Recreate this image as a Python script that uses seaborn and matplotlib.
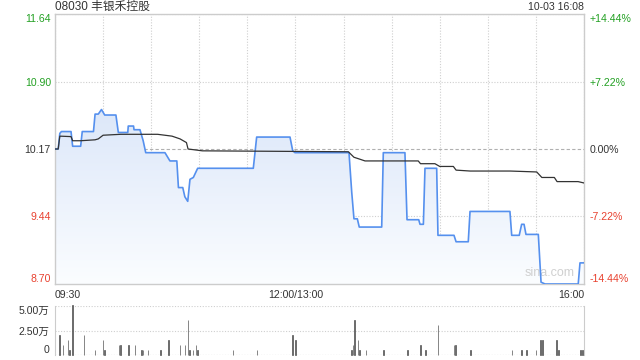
import numpy as np
import matplotlib
matplotlib.use("Agg")
import matplotlib.pyplot as plt
from matplotlib.colors import LinearSegmentedColormap
import seaborn as sns

# ---------------- data ----------------
title = "08030 丰银禾控股"
stamp = "10-03 16:08"
prev_close = 10.17

price_minutes = [0, 2, 3, 4, 10, 11, 16, 17, 24, 25, 27, 29, 31, 38, 39.5, 45.4, 45.7, 49, 49.3, 53,
                 55, 56.6, 68.6, 71.7, 76, 77, 79.7, 81, 82.8, 84.2, 86.3, 89, 123.7, 125.8, 146.6,
                 148.3, 149.7, 183.4, 185.1, 186.5, 188.6, 189.8, 203.8, 204.8, 218.3, 219.6, 226.9,
                 227.7, 229.8, 230.8, 238.1, 238.9, 248.9, 250.2, 257.8, 258.9, 283.8, 284.9, 289.6,
                 291.1, 292.6, 293.8, 301.5, 303.2, 305.7, 326.4, 327.5, 330]
price_values = [10.17, 10.17, 10.34, 10.36, 10.36, 10.20, 10.20, 10.36, 10.36, 10.55,
                10.55, 10.60, 10.54, 10.54, 10.35, 10.35, 10.42, 10.42, 10.38, 10.38,
                10.26, 10.13, 10.13, 10.04, 10.04, 9.75, 9.75, 9.65, 9.60, 9.84,
                9.86, 9.96, 9.96, 10.30, 10.30, 10.15, 10.13, 10.13, 9.70, 9.41,
                9.41, 9.32, 9.32, 10.13, 10.13, 9.40, 9.40, 9.35, 9.35, 9.96,
                9.96, 9.23, 9.23, 9.16, 9.16, 9.49, 9.49, 9.23, 9.23, 9.35,
                9.35, 9.24, 9.24, 8.72, 8.70, 8.70, 8.93, 8.93]

avg_minutes = [0, 2, 3, 10, 11, 16, 25, 27, 30, 41, 64, 73, 78, 82, 83, 92, 183, 186.5, 190, 193.4,
               226.6, 228, 237, 240, 248.5, 250.2, 259, 284, 300.5, 303.7, 311.5, 313.2, 326.3, 330]
avg_values = [10.17, 10.17, 10.31, 10.305, 10.26, 10.26, 10.27, 10.28, 10.32, 10.33,
              10.33, 10.31, 10.28, 10.24, 10.17, 10.15, 10.14, 10.08, 10.06, 10.04,
              10.04, 10.01, 10.01, 9.98, 9.98, 9.94, 9.93, 9.93, 9.92, 9.86,
              9.86, 9.815, 9.815, 9.80]

vol_minutes = [3, 5, 8, 9, 11, 18, 25, 30, 31, 40, 41, 46, 50, 54, 55, 58, 66, 71, 78, 81,
               83, 84, 86, 88, 89, 111, 126, 148, 150, 185, 186, 187, 189, 190, 194, 205, 220,
               228, 231, 239, 249, 250, 259, 285, 291, 294, 300, 303, 304, 313, 314, 328, 329]
vol_values = [20000, 10000, 15000, 5000, 51000, 20000, 5000, 15000, 5000, 10000,
              10000, 10000, 10000, 5000, 5000, 5000, 5000, 15000, 10000, 10000,
              35500, 5000, 5000, 10000, 5000, 5000, 5000, 20000, 15000, 5000,
              10000, 35500, 15000, 5000, 5000, 5000, 5000, 10000, 5000, 30500,
              10000, 10000, 5000, 5000, 5000, 5000, 5000, 15000, 15000, 15000,
              5000, 5000, 5000]

price_ticks = [8.70, 9.44, 10.17, 10.90, 11.64]
price_tick_labels = ["8.70", "9.44", "10.17", "10.90", "11.64"]
pct_tick_labels = ["-14.44%", "-7.22%", "0.00%", "+7.22%", "+14.44%"]
tick_colors = ["#e8412f", "#e8412f", "#333333", "#22a022", "#22a022"]
time_ticks = [0, 150, 330]
time_labels = ["09:30", "12:00/13:00", "16:00"]
vol_ticks = [0, 25000, 50000]
vol_labels = ["0", "2.50万", "5.00万"]

# ---------------- style ----------------
sns.set_style("white")
plt.rcParams['font.family'] = ['Liberation Sans', 'Noto Sans CJK SC', 'DejaVu Sans']
plt.rcParams['axes.unicode_minus'] = False

W, H = 640, 360
fig = plt.figure(figsize=(W / 100, H / 100), dpi=100)
L, R = 55, 584
ax = fig.add_axes([L / W, 1 - 284 / H, (R - L) / W, (284 - 14) / H])
axv = fig.add_axes([L / W, 1 - 355 / H, (R - L) / W, (355 - 306) / H])

grid_c = "#cfcfcf"
frame_c = "#cccccc"
fs = 7.6

# gradient fill under price line
poly = ax.fill_between(price_minutes, price_values, 8.60, color="none", lw=0)
cmap = LinearSegmentedColormap.from_list("g", ["#fbfdff", "#dce7f9"])
grad = np.linspace(0, 1, 256).reshape(-1, 1)
im = ax.imshow(grad, extent=[0, 330, 8.70, 10.62], origin="lower", aspect="auto",
               cmap=cmap, zorder=1)
im.set_clip_path(poly.get_paths()[0], transform=ax.transData)

sns.lineplot(x=price_minutes, y=price_values, ax=ax, color="#5590ee", lw=1.2,
             estimator=None, sort=False, zorder=4)
sns.lineplot(x=avg_minutes, y=avg_values, ax=ax, color="#333333", lw=0.9,
             estimator=None, sort=False, zorder=5)

ax.set_xlim(0, 330)
ax.set_ylim(8.70, 11.64)
ax.set_xticks(list(range(0, 331, 30)))
ax.set_xticklabels([time_labels[time_ticks.index(t)] if t in time_ticks else ""
                    for t in range(0, 331, 30)], fontsize=fs, color="#333333")
ax.set_yticks(price_ticks)
ax.set_yticklabels(price_tick_labels, fontsize=fs)
ax.tick_params(axis="both", length=0)
ax.tick_params(axis="y", pad=3)
ax.tick_params(axis="x", pad=4)
for lbl, c in zip(ax.get_yticklabels(), tick_colors):
    lbl.set_color(c)
ylbls = ax.get_yticklabels()
ylbls[0].set_va("bottom")
ylbls[-1].set_va("top")
xl = ax.get_xticklabels()
xl[0].set_ha("left")
xl[-1].set_ha("right")
ax.grid(True, color=grid_c, linestyle=(0, (1, 1.5)), lw=0.8)
ax.get_ygridlines()[2].set_linestyle((0, (3, 2)))
ax.get_ygridlines()[2].set_color("#b0b0b0")
for s in ax.spines.values():
    s.set_color(frame_c)
    s.set_linewidth(1)
ax.set_xlabel("")
ax.set_ylabel("")
ax.text(0.935, 0.02, "sina.com", transform=ax.transAxes, ha="center", va="bottom",
        fontsize=9, color="#d0d0d0", zorder=2)

# right percent axis
ax2 = ax.twinx()
ax2.set_ylim(8.70, 11.64)
ax2.set_yticks(price_ticks)
ax2.set_yticklabels(pct_tick_labels, fontsize=fs)
ax2.tick_params(axis="y", length=0, pad=4)
for lbl, c in zip(ax2.get_yticklabels(), tick_colors):
    lbl.set_color(c)
r = ax2.get_yticklabels()
r[0].set_va("bottom")
r[-1].set_va("top")
for s in ax2.spines.values():
    s.set_visible(False)

# volume
sns.barplot(x=vol_minutes, y=vol_values, native_scale=True, width=0.4, color="#555555",
            errorbar=None, ax=axv, saturation=1, zorder=3,
            linewidth=0.5, edgecolor="#555555")
for p in axv.patches:
    p.set_clip_on(False)
axv.set_xlim(0, 330)
axv.set_ylim(0, 50000)
axv.set_yticks(vol_ticks)
axv.set_yticklabels(vol_labels, fontsize=fs, color="#333333")
axv.set_xticks(list(range(0, 331, 30)))
axv.set_xticklabels([])
axv.tick_params(axis="both", length=0)
axv.tick_params(axis="y", pad=4)
vl = axv.get_yticklabels()
vl[0].set_va("bottom")
vl[-1].set_va("top")
axv.grid(True, axis="y", color=grid_c, linestyle=(0, (1, 1.5)), lw=0.8)
axv.get_ygridlines()[0].set_color("#888888")
for k in ("top", "bottom"):
    axv.spines[k].set_visible(False)
for k in ("left", "right"):
    axv.spines[k].set_color(frame_c)
axv.set_xlabel("")
axv.set_ylabel("")

fig.text(L / W, 1 - 7 / H, title, ha="left", va="center", fontsize=8.5, color="#333333")
fig.text(R / W, 1 - 7 / H, stamp, ha="right", va="center", fontsize=fs, color="#333333")

fig.savefig("out.png", dpi=100)
